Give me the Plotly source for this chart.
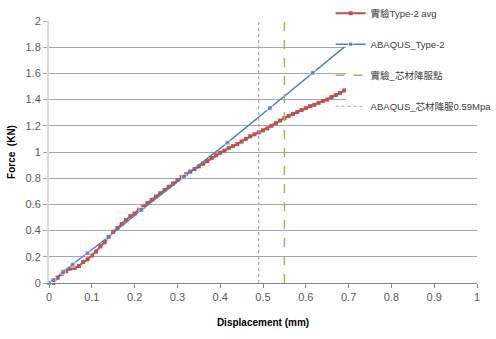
import plotly.graph_objects as go

# Experimental average curve (實驗Type-2 avg)
exp_x = [0.01, 0.02, 0.03, 0.04, 0.05, 0.06, 0.07, 0.08, 0.09, 0.10,
         0.11, 0.12, 0.13, 0.14, 0.15, 0.16, 0.17, 0.18, 0.19, 0.20,
         0.21, 0.22, 0.23, 0.24, 0.25, 0.26, 0.27, 0.28, 0.29, 0.30,
         0.31, 0.32, 0.33, 0.34, 0.35, 0.36, 0.37, 0.38, 0.39, 0.40,
         0.41, 0.42, 0.43, 0.44, 0.45, 0.46, 0.47, 0.48, 0.49, 0.50,
         0.51, 0.52, 0.53, 0.54, 0.55, 0.56, 0.57, 0.58, 0.59, 0.60,
         0.61, 0.62, 0.63, 0.64, 0.65, 0.66, 0.67, 0.68, 0.69]
exp_y = [0.00, 0.04, 0.07, 0.09, 0.11, 0.115, 0.13, 0.16, 0.18, 0.21,
         0.24, 0.28, 0.31, 0.35, 0.39, 0.42, 0.45, 0.48, 0.51, 0.53,
         0.56, 0.58, 0.61, 0.635, 0.66, 0.685, 0.71, 0.735, 0.76, 0.785,
         0.81, 0.83, 0.85, 0.87, 0.89, 0.91, 0.93, 0.955, 0.975, 0.995,
         1.01, 1.03, 1.045, 1.06, 1.08, 1.10, 1.12, 1.135, 1.15, 1.165,
         1.18, 1.20, 1.22, 1.24, 1.26, 1.275, 1.29, 1.305, 1.32, 1.335,
         1.35, 1.36, 1.375, 1.39, 1.40, 1.42, 1.435, 1.45, 1.47]

# ABAQUS simulation (ABAQUS_Type-2)
fem_x = [0.0, 0.01, 0.033, 0.055, 0.09, 0.139, 0.216, 0.316, 0.417, 0.516, 0.616, 0.69]
fem_y = [0.0, 0.023, 0.086, 0.14, 0.227, 0.353, 0.557, 0.811, 1.071, 1.336, 1.605, 1.80]
fem_marker = [True, True, True, True, True, True, True, True, True, True, True, False]

# Yield lines
exp_yield_x = 0.55      # 實驗_芯材降服點
fem_yield_x = 0.49      # ABAQUS_芯材降服0.59Mpa
yield_span = [0, 2]

x_ticks = [0, 0.1, 0.2, 0.3, 0.4, 0.5, 0.6, 0.7, 0.8, 0.9, 1]
x_tick_text = ["0", "0.1", "0.2", "0.3", "0.4", "0.5", "0.6", "0.7", "0.8", "0.9", "1"]
y_ticks = [0, 0.2, 0.4, 0.6, 0.8, 1, 1.2, 1.4, 1.6, 1.8, 2]
y_tick_text = ["0", "0.2", "0.4", "0.6", "0.8", "1", "1.2", "1.4", "1.6", "1.8", "2"]

names = ["實驗Type-2 avg", "ABAQUS_Type-2", "實驗_芯材降服點", "ABAQUS_芯材降服0.59Mpa"]

fig = go.Figure()
fig.add_trace(go.Scatter(
    x=exp_x, y=exp_y, name=names[0], mode="lines+markers",
    line=dict(color="#C0504D", width=2),
    marker=dict(symbol="square", size=4, color="#C0504D"),
    legendgroup="a", cliponaxis=False))
fig.add_trace(go.Scatter(
    x=fem_x, y=fem_y, name=names[1], mode="lines+markers",
    line=dict(color="#4F81BD", width=1.5),
    marker=dict(symbol="square", size=[5 if m else 0 for m in fem_marker], color="#4F81BD"),
    legendgroup="b", cliponaxis=False))
fig.add_trace(go.Scatter(
    x=[exp_yield_x, exp_yield_x], y=yield_span, name=names[2], mode="lines",
    line=dict(color="#9BBB59", width=1.5, dash="dash"),
    legendgroup="c"))
fig.add_trace(go.Scatter(
    x=[fem_yield_x, fem_yield_x], y=yield_span, name=names[3], mode="lines",
    line=dict(color="#A99BCB", width=1.2, dash="dot"),
    legendgroup="d"))

tick_font = dict(family="Liberation Sans, Arial, sans-serif", size=11, color="#595959")

fig.update_layout(
    width=496, height=339,
    margin=dict(l=49, r=19, t=21, b=56, autoexpand=False),
    paper_bgcolor="white", plot_bgcolor="white",
    font=dict(family="Liberation Sans, Noto Sans CJK TC, sans-serif", color="#404040"),
    legend=dict(
        x=0.658, y=1.085, xanchor="left", yanchor="top",
        bgcolor="rgba(255,255,255,0)", borderwidth=0,
        font=dict(family="Liberation Sans, Noto Sans CJK TC, sans-serif", size=9.5, color="#404040"),
        tracegroupgap=12, itemwidth=30,
    ),
    xaxis=dict(
        range=[0, 1], tickvals=x_ticks, ticktext=x_tick_text,
        showgrid=False, zeroline=False,
        showline=True, linecolor="#868686", linewidth=1,
        ticks="outside", ticklen=4, tickcolor="#868686",
        tickfont=tick_font,
        title=dict(text="<b>Displacement (mm)</b>", font=dict(size=10, color="#000000"), standoff=16),
    ),
    yaxis=dict(
        range=[0, 2], tickvals=y_ticks, ticktext=y_tick_text,
        showgrid=True, gridcolor="#A6A6A6", gridwidth=1,
        zeroline=False,
        showline=True, linecolor="#D9D9D9", linewidth=2,
        ticks="outside", ticklen=4, tickcolor="#A6A6A6",
        tickfont=tick_font,
        title=dict(text="<b>Force  (KN)</b>", font=dict(size=10, color="#000000"), standoff=8),
    ),
    shapes=[dict(type="rect", xref="paper", yref="paper",
                 x0=(346 - 49) / 428, x1=1.05, y0=(283 - 115) / 262, y1=1.1,
                 fillcolor="white", line=dict(width=0), layer="above")],
)

fig.write_html("out.html")
